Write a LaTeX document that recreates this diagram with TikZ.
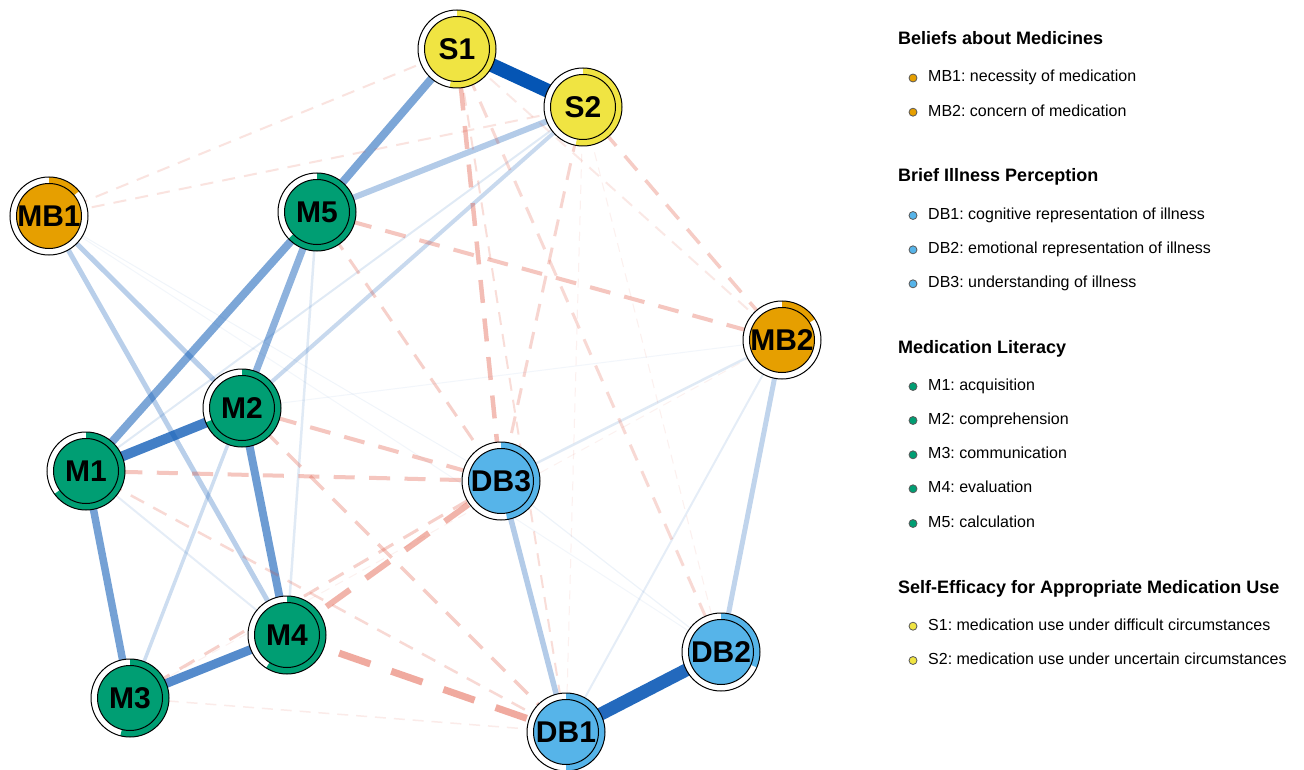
\documentclass[tikz,border=0pt]{standalone}
\usepackage{fontspec}
\setmainfont{Liberation Sans}
\usetikzlibrary{positioning}
\definecolor{sgold}{RGB}{240,228,66}
\definecolor{mborange}{RGB}{230,159,0}
\definecolor{mlgreen}{RGB}{0,158,115}
\definecolor{dbblue}{RGB}{86,180,233}
\definecolor{posblue}{RGB}{5,85,180}
\definecolor{negred}{RGB}{222,68,44}
\frenchspacing

\pgfdeclarelayer{paper}
\pgfdeclarelayer{edges}
\pgfsetlayers{paper,edges,main}

\tikzset{
  ringbase/.style={circle, fill=white, minimum size=78pt, inner sep=0pt, outer sep=0pt},
  ringlab/.style={inner sep=0pt, font=\fontsize{30}{30}\selectfont\bfseries},
  posedge/.style 2 args={draw=posblue, line width=#1pt, draw opacity=#2},
  negedge/.style 2 args={draw=negred, line width=#1pt, draw opacity=#2,
    dash pattern=on 4*#1pt+5pt off 2.6*#1pt+4pt},
  legtitle/.style={anchor=base west, inner sep=0pt, font=\fontsize{18}{20}\selectfont\bfseries},
  legdot/.style={circle, draw=black!65, line width=0.8pt, minimum size=8pt, inner sep=0pt, outer sep=0pt},
  legitem/.style={inner sep=0pt, text height=11.5pt, text depth=3.5pt, font=\fontsize{16}{18}\selectfont}
}

% name, x, y, colour, fraction, label
\newcommand{\ringnode}[6]{%
  \node[ringbase] (#1) at (#2,-#3) {};
  \pgfmathsetmacro\ringend{90-360*#5}
  \fill[#4] ([shift={(90:39pt)}]#1.center) arc[start angle=90, end angle=\ringend, radius=39pt]
    -- ([shift={(\ringend:32pt)}]#1.center) arc[start angle=\ringend, end angle=90, radius=32pt] -- cycle;
  \draw[line width=1pt] (#1.center) circle[radius=39pt];
  \filldraw[fill=#4, draw=black, line width=1pt] (#1.center) circle[radius=32.5pt];
  \node[ringlab] (#1lab) at (#1.center) {#6};
}

\begin{document}
\begin{tikzpicture}[x=1pt,y=1pt]

\begin{pgfonlayer}{paper}
\fill[white] (0,0) rectangle (1304,-770);
\end{pgfonlayer}
\useasboundingbox (0,0) rectangle (1304,-770);

% nodes
\ringnode{S1}{457}{49}{sgold}{0.53}{S1}
\ringnode{S2}{583}{107}{sgold}{0.53}{S2}
\ringnode{MB1}{49}{216}{mborange}{0.14}{MB1}
\ringnode{M5}{317}{212}{mlgreen}{0.63}{M5}
\ringnode{M2}{242}{408}{mlgreen}{0.69}{M2}
\ringnode{M1}{86}{471}{mlgreen}{0.65}{M1}
\ringnode{M4}{287}{635}{mlgreen}{0.59}{M4}
\ringnode{M3}{130}{698}{mlgreen}{0.54}{M3}
\ringnode{DB3}{501}{481}{dbblue}{0.475}{DB3}
\ringnode{DB2}{721}{652}{dbblue}{0.315}{DB2}
\ringnode{DB1}{566}{732}{dbblue}{0.5}{DB1}
\ringnode{MB2}{782}{340}{mborange}{0.16}{MB2}

\begin{pgfonlayer}{edges}
% positive
\draw[posedge={14}{1}] (S1.center) -- (S2.center);
\draw[posedge={13}{.88}] (DB1.center) -- (DB2.center);
\draw[posedge={10}{.75}] (M1.center) -- (M2.center);
\draw[posedge={9}{.68}] (M3.center) -- (M4.center);
\draw[posedge={8}{.52}] (S1.center) -- (M5.center);
\draw[posedge={8}{.52}] (M5.center) -- (M1.center);
\draw[posedge={8}{.58}] (M2.center) -- (M4.center);
\draw[posedge={7.5}{.55}] (M1.center) -- (M3.center);
\draw[posedge={7}{.45}] (M5.center) -- (M2.center);
\draw[posedge={6}{.3}] (S2.center) -- (M5.center);
\draw[posedge={5}{.28}] (MB1.center) -- (M2.center);
\draw[posedge={5}{.28}] (MB1.center) -- (M4.center);
\draw[posedge={5.5}{.3}] (DB3.center) -- (DB1.center);
\draw[posedge={5}{.25}] (MB2.center) -- (DB2.center);
\draw[posedge={4}{.22}] (S2.center) -- (M2.center);
\draw[posedge={3.5}{.2}] (M2.center) -- (M3.center);
\draw[posedge={2}{.12}] (S2.center) -- (M1.center);
\draw[posedge={2.5}{.12}] (M5.center) -- (M4.center);
\draw[posedge={2}{.1}] (M1.center) -- (M4.center);
\draw[posedge={2.5}{.12}] (MB2.center) -- (DB3.center);
\draw[posedge={2}{.1}] (MB2.center) -- (DB1.center);
\draw[posedge={1.2}{.07}] (DB3.center) -- (DB2.center);
\draw[posedge={1}{.06}] (MB1.center) -- (DB3.center);
\draw[posedge={1}{.05}] (MB1.center) -- (DB2.center);
\draw[posedge={1}{.05}] (M2.center) -- (MB2.center);
% negative
\draw[negedge={7}{.45}] (M4.center) -- (DB1.center);
\draw[negedge={6}{.4}] (M4.center) -- (DB3.center);
\draw[negedge={4.5}{.35}] (S1.center) -- (DB3.center);
\draw[negedge={4}{.3}] (M1.center) -- (DB3.center);
\draw[negedge={4}{.3}] (M2.center) -- (DB3.center);
\draw[negedge={4}{.3}] (M5.center) -- (MB2.center);
\draw[negedge={3.5}{.27}] (S2.center) -- (MB2.center);
\draw[negedge={3.5}{.27}] (M2.center) -- (DB1.center);
\draw[negedge={3}{.25}] (M5.center) -- (DB3.center);
\draw[negedge={3}{.2}] (S1.center) -- (DB2.center);
\draw[negedge={3}{.22}] (S2.center) -- (DB3.center);
\draw[negedge={3}{.25}] (M3.center) -- (DB3.center);
\draw[negedge={2.5}{.2}] (M1.center) -- (DB1.center);
\draw[negedge={2}{.18}] (S1.center) -- (DB1.center);
\draw[negedge={2}{.15}] (S1.center) -- (MB1.center);
\draw[negedge={2}{.15}] (S2.center) -- (MB1.center);
\draw[negedge={2}{.12}] (S1.center) -- (MB2.center);
\draw[negedge={1.5}{.1}] (M3.center) -- (DB1.center);
\draw[negedge={1}{.08}] (S2.center) -- (DB1.center);
\draw[negedge={1}{.08}] (S2.center) -- (DB2.center);
\draw[negedge={1}{.07}] (M3.center) -- (MB2.center);
\end{pgfonlayer}

% legend
\node[legtitle] (tmb) at (898,-45) {Beliefs about Medicines};
\node[legdot, fill=mborange] (dmb1) at (913,-78) {};
\node[legitem, right=11pt of dmb1] (imb1) {MB1: necessity of medication};
\node[legdot, fill=mborange] (dmb2) at (913,-112.2) {};
\node[legitem, right=11pt of dmb2] (imb2) {MB2: concern of medication};

\node[legtitle] (tdb) at (898,-181.7) {Brief Illness Perception};
\node[legdot, fill=dbblue] (ddb1) at (913,-215.5) {};
\node[legitem, right=11pt of ddb1] (idb1) {DB1: cognitive representation of illness};
\node[legdot, fill=dbblue] (ddb2) at (913,-249.8) {};
\node[legitem, right=11pt of ddb2] (idb2) {DB2: emotional representation of illness};
\node[legdot, fill=dbblue] (ddb3) at (913,-283.8) {};
\node[legitem, right=11pt of ddb3] (idb3) {DB3: understanding of illness};

\node[legtitle] (tml) at (898,-353.3) {Medication Literacy};
\node[legdot, fill=mlgreen] (dm1) at (913,-386.5) {};
\node[legitem, right=11pt of dm1] (im1) {M1: acquisition};
\node[legdot, fill=mlgreen] (dm2) at (913,-420.5) {};
\node[legitem, right=11pt of dm2] (im2) {M2: comprehension};
\node[legdot, fill=mlgreen] (dm3) at (913,-454.8) {};
\node[legitem, right=11pt of dm3] (im3) {M3: communication};
\node[legdot, fill=mlgreen] (dm4) at (913,-488.8) {};
\node[legitem, right=11pt of dm4] (im4) {M4: evaluation};
\node[legdot, fill=mlgreen] (dm5) at (913,-523.5) {};
\node[legitem, right=11pt of dm5] (im5) {M5: calculation};

\node[legtitle] (tse) at (898,-593.3) {Self-Efficacy for Appropriate Medication Use};
\node[legdot, fill=sgold] (ds1) at (913,-626.2) {};
\node[legitem, right=11pt of ds1] (is1) {S1: medication use under difficult circumstances};
\node[legdot, fill=sgold] (ds2) at (913,-660.5) {};
\node[legitem, right=11pt of ds2] (is2) {S2: medication use under uncertain circumstances};

\end{tikzpicture}
\end{document}
